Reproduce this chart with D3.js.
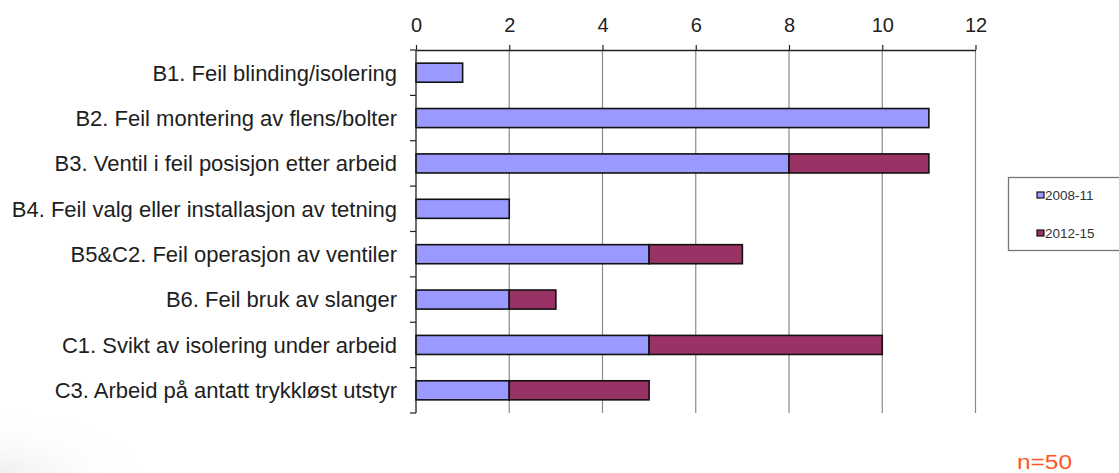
<!DOCTYPE html>
<html>
<head>
<meta charset="utf-8">
<script src="https://cdn.jsdelivr.net/npm/d3@7"></script>
<style>
  html, body { margin: 0; padding: 0; background: #fff; }
  svg { display: block; font-family: "Liberation Sans", Arial, sans-serif; }
</style>
</head>
<body>
<svg id="chart" width="1119" height="473"></svg>
<script>
// Categories of causes (top to bottom)
const categories = [
  "B1. Feil blinding/isolering",
  "B2. Feil montering av flens/bolter",
  "B3. Ventil i feil posisjon etter arbeid",
  "B4. Feil valg eller installasjon av tetning",
  "B5&C2. Feil operasjon av ventiler",
  "B6. Feil bruk av slanger",
  "C1. Svikt av isolering under arbeid",
  "C3. Arbeid på antatt trykkløst utstyr"
];
const seriesNames = ["2008-11", "2012-15"];
const values2008 = [1, 11, 8, 2, 5, 2, 5, 2];
const values2012 = [0, 0, 3, 0, 2, 1, 5, 3];
const xTicks = [0, 2, 4, 6, 8, 10, 12];
const colors = ["#9999ff", "#993366"];

const svg = d3.select("#chart");

// faint shading in the lower-left corner
const defs = svg.append("defs");
const grad = defs.append("radialGradient").attr("id", "corner")
  .attr("cx", "0%").attr("cy", "100%").attr("r", "100%");
grad.append("stop").attr("offset", "0%").attr("stop-color", "#efefef");
grad.append("stop").attr("offset", "100%").attr("stop-color", "#ffffff").attr("stop-opacity", 0);
svg.append("rect").attr("x", 0).attr("y", 412).attr("width", 140).attr("height", 61)
  .attr("fill", "url(#corner)");

const plotLeft = 416, plotRight = 975.5, plotTop = 50, plotBottom = 413;

const x = d3.scaleLinear().domain([0, 12]).range([plotLeft, plotRight]);
const y = d3.scaleBand().domain(categories).range([plotTop, plotBottom])
  .paddingInner(0.58).paddingOuter(0.29);

// vertical gridlines
svg.append("g").selectAll("line").data(xTicks.slice(1)).join("line")
  .attr("x1", d => x(d)).attr("x2", d => x(d))
  .attr("y1", plotTop).attr("y2", plotBottom)
  .attr("stroke", "#8a8a8a").attr("stroke-width", 1.2);

// stacked bars
const rows = categories.map((c, i) => ({ cat: c, a: values2008[i], b: values2012[i] }));
const stack = d3.stack().keys(["a", "b"])(rows);
svg.append("g").selectAll("g").data(stack).join("g")
  .attr("fill", (d, i) => colors[i])
  .selectAll("rect").data(d => d.filter(s => s[1] - s[0] > 0)).join("rect")
  .attr("x", d => x(d[0]))
  .attr("width", d => x(d[1]) - x(d[0]))
  .attr("y", d => y(d.data.cat))
  .attr("height", y.bandwidth())
  .attr("stroke", "#111").attr("stroke-width", 1.6);

// top axis
const xAxis = d3.axisTop(x).tickValues(xTicks).tickSize(5).tickPadding(13).tickSizeOuter(0);
const gx = svg.append("g").attr("transform", `translate(0,${plotTop})`).call(xAxis);
gx.select(".domain").attr("stroke", "#222").attr("stroke-width", 1.3);
gx.selectAll(".tick line").attr("stroke", "#222").attr("stroke-width", 1.2);
gx.selectAll("text").attr("font-size", 20).attr("fill", "#222")
  .attr("font-family", "'Liberation Sans', Arial, sans-serif");

// left axis with ticks between categories
const boundaries = d3.range(categories.length + 1)
  .map(i => plotTop + i * (plotBottom - plotTop) / categories.length);
svg.append("line").attr("x1", plotLeft).attr("x2", plotLeft).attr("y1", plotTop).attr("y2", plotBottom)
  .attr("stroke", "#222").attr("stroke-width", 1.3);
svg.append("g").selectAll("line").data(boundaries).join("line")
  .attr("x1", plotLeft - 6).attr("x2", plotLeft).attr("y1", d => d).attr("y2", d => d)
  .attr("stroke", "#222").attr("stroke-width", 1.2);

// category labels
svg.append("g").selectAll("text").data(categories).join("text")
  .attr("x", plotLeft - 19)
  .attr("y", d => y(d) + y.bandwidth() / 2)
  .attr("dy", "0.36em")
  .attr("text-anchor", "end")
  .attr("font-size", 22)
  .attr("fill", "#1e1e1e")
  .text(d => d);

// legend
const lg = svg.append("g");
lg.append("rect").attr("x", 1008.5).attr("y", 177.5).attr("width", 130).attr("height", 73)
  .attr("fill", "#fff").attr("stroke", "#777").attr("stroke-width", 1.3);
seriesNames.forEach((name, i) => {
  const cy = 195 + i * 38;
  lg.append("rect").attr("x", 1037).attr("y", cy - 3).attr("width", 7).attr("height", 6)
    .attr("fill", colors[i]).attr("stroke", "#111").attr("stroke-width", 1.2);
  lg.append("text").attr("x", 1045).attr("y", cy).attr("dy", "0.36em")
    .attr("font-size", 13.5).attr("fill", "#333").text(name);
});

// sample size note
svg.append("text").attr("x", 1017).attr("y", 469)
  .attr("font-size", 20.5).attr("fill", "#ff5522")
  .attr("textLength", 55).attr("lengthAdjust", "spacingAndGlyphs")
  .text("n=50");
</script>
</body>
</html>
